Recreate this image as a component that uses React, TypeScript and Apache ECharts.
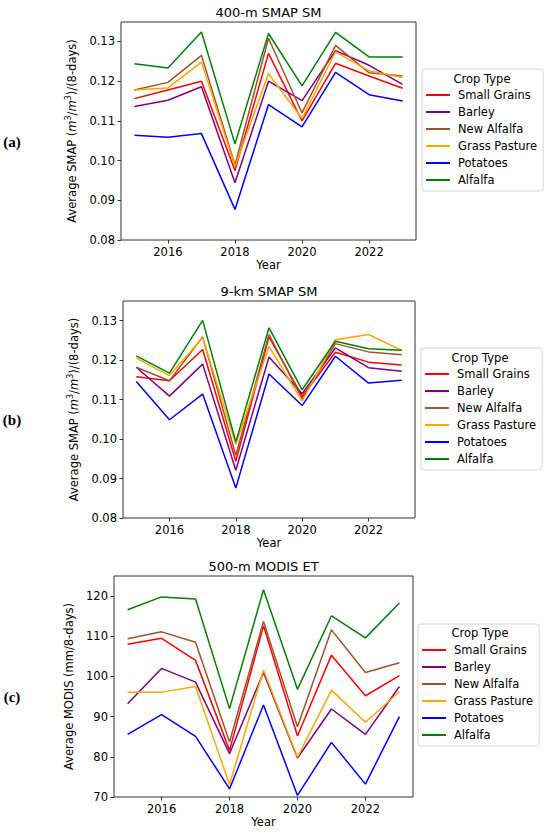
import React, { useEffect, useRef } from "react";
import * as echarts from "echarts";

const years = [2015, 2016, 2017, 2018, 2019, 2020, 2021, 2022, 2023];
const cropNames = ["Small Grains", "Barley", "New Alfalfa", "Grass Pasture", "Potatoes", "Alfalfa"];
const cropColors = ["#ff0000", "#800080", "#a0522d", "#ffa500", "#0000ff", "#008000"];

const xTicks = [2016, 2018, 2020, 2022];
const yTicksSmap = [0.08, 0.09, 0.1, 0.11, 0.12, 0.13];
const yTicksModis = [70, 80, 90, 100, 110, 120];

// (a) 400-m SMAP SM
const smap400SmallGrains = [0.1156, 0.1178, 0.12, 0.0975, 0.127, 0.11, 0.1245, 0.1213, 0.1182];
const smap400Barley = [0.1136, 0.1152, 0.1186, 0.0944, 0.12, 0.1151, 0.1277, 0.124, 0.1192];
const smap400NewAlfalfa = [0.1178, 0.1197, 0.1265, 0.0989, 0.1308, 0.112, 0.129, 0.1221, 0.1213];
const smap400GrassPasture = [0.1178, 0.1183, 0.1248, 0.0985, 0.1219, 0.1106, 0.1274, 0.1226, 0.1209];
const smap400Potatoes = [0.1064, 0.1059, 0.1068, 0.0877, 0.1141, 0.1085, 0.1222, 0.1166, 0.115];
const smap400Alfalfa = [0.1244, 0.1233, 0.1324, 0.1042, 0.132, 0.1188, 0.1323, 0.1261, 0.1261];

// (b) 9-km SMAP SM
const smap9SmallGrains = [0.1158, 0.1148, 0.1227, 0.0944, 0.1259, 0.1108, 0.122, 0.1195, 0.1188];
const smap9Barley = [0.1182, 0.1109, 0.119, 0.0921, 0.1208, 0.1115, 0.1231, 0.1181, 0.1172];
const smap9NewAlfalfa = [0.1182, 0.1148, 0.1259, 0.0959, 0.1265, 0.1102, 0.1242, 0.1221, 0.1214];
const smap9GrassPasture = [0.1205, 0.1161, 0.1257, 0.0987, 0.1235, 0.1096, 0.1252, 0.1265, 0.1225];
const smap9Potatoes = [0.1146, 0.1049, 0.1114, 0.0876, 0.1165, 0.1085, 0.121, 0.1142, 0.1149];
const smap9Alfalfa = [0.1211, 0.1167, 0.1301, 0.0993, 0.1282, 0.1125, 0.1248, 0.1229, 0.1225];

// (c) 500-m MODIS ET
const modisSmallGrains = [108.0, 109.5, 104.0, 81.6, 112.6, 85.2, 105.3, 95.2, 100.2];
const modisBarley = [93.2, 102.0, 98.6, 80.8, 101.0, 79.7, 91.9, 85.6, 97.5];
const modisNewAlfalfa = [109.4, 111.1, 108.5, 83.7, 113.7, 87.5, 111.6, 101.0, 103.4];
const modisGrassPasture = [96.1, 96.1, 97.5, 73.1, 101.6, 79.9, 96.6, 88.6, 96.2];
const modisPotatoes = [85.6, 90.5, 85.1, 72.0, 92.9, 70.4, 83.6, 73.2, 90.0];
const modisAlfalfa = [116.6, 119.8, 119.3, 92.0, 121.6, 96.8, 115.1, 109.6, 118.3];

const panelTitles = ["400-m SMAP SM", "9-km SMAP SM", "500-m MODIS ET"];
const panelLetters = ["(a)", "(b)", "(c)"];

const FONT = "DejaVu Sans";

export default function App() {
  const ref = useRef<HTMLDivElement>(null);

  useEffect(() => {
    if (!ref.current) return;
    const chart = echarts.init(ref.current, null, { renderer: "svg" });

    const panelData = [
      [smap400SmallGrains, smap400Barley, smap400NewAlfalfa, smap400GrassPasture, smap400Potatoes, smap400Alfalfa],
      [smap9SmallGrains, smap9Barley, smap9NewAlfalfa, smap9GrassPasture, smap9Potatoes, smap9Alfalfa],
      [modisSmallGrains, modisBarley, modisNewAlfalfa, modisGrassPasture, modisPotatoes, modisAlfalfa],
    ];

    const grids = [
      { left: 121, top: 22, width: 295, height: 218 },
      { left: 123, top: 301, width: 292, height: 217 },
      { left: 114, top: 576, width: 299, height: 221 },
    ];
    const yRanges = [
      [0.08, 0.1349],
      [0.08, 0.135],
      [70, 125],
    ];
    const yNameGaps = [36, 36, 31];
    const legendPos = [
      { left: 422, top: 69 },
      { left: 421, top: 348 },
      { left: 418, top: 624 },
    ];
    const titleY = [12, 291, 566];
    const legendTitlePos = [
      [482, 79],
      [480, 358],
      [480, 633],
    ];
    const letterY = [142, 420, 697];

    const richName = {
      n: { fontFamily: FONT, fontSize: 11.5, color: "#000", lineHeight: 15 },
      i: { fontFamily: FONT, fontSize: 11.5, color: "#000", fontStyle: "italic", lineHeight: 15 },
      s: { fontFamily: FONT, fontSize: 8, color: "#000", lineHeight: 15, verticalAlign: "top" },
    };
    const smapName = "{n|Average SMAP (}{i|m}{s|3}{n|/}{i|m}{s|3}{n|)/(8-days)}";

    const tickStyle = { show: true, length: 3.5, lineStyle: { color: "#333", width: 1 } };

    const option: any = {
      animation: false,
      backgroundColor: "#fff",
      grid: grids.map((g) => ({
        ...g,
        show: true,
        borderColor: "#333",
        borderWidth: 1,
        backgroundColor: "transparent",
        containLabel: false,
      })),
      xAxis: grids.map((_, k) => ({
        type: "value",
        gridIndex: k,
        min: 2014.6,
        max: 2023.4,
        name: "Year",
        nameLocation: "middle",
        nameGap: 19,
        nameTextStyle: { fontFamily: FONT, fontSize: 11.5, color: "#000" },
        axisLine: { show: false },
        axisTick: { ...tickStyle, customValues: xTicks },
        axisLabel: {
          customValues: xTicks,
          margin: 6,
          fontFamily: FONT,
          fontSize: 11.5,
          color: "#000",
          formatter: (v: number) => String(v),
        },
        splitLine: { show: false },
      })),
      yAxis: grids.map((_, k) => ({
        type: "value",
        gridIndex: k,
        min: yRanges[k][0],
        max: yRanges[k][1],
        name: k < 2 ? smapName : "Average MODIS (mm/8-days)",
        nameLocation: "middle",
        nameGap: yNameGaps[k],
        nameTextStyle: { fontFamily: FONT, fontSize: 11.5, color: "#000", rich: richName },
        axisLine: { show: false },
        axisTick: { ...tickStyle, customValues: k < 2 ? yTicksSmap : yTicksModis },
        axisLabel: {
          customValues: k < 2 ? yTicksSmap : yTicksModis,
          margin: 6,
          fontFamily: FONT,
          fontSize: 11.5,
          color: "#000",
          formatter: (v: number) => (k < 2 ? v.toFixed(2) : String(Math.round(v))),
        },
        splitLine: { show: false },
      })),
      legend: legendPos.map((p) => ({
        data: cropNames,
        orient: "vertical",
        left: p.left,
        top: p.top,
        padding: [19, 6, 4, 4],
        itemGap: 3,
        itemWidth: 24,
        itemHeight: 2,
        icon: "rect",
        borderColor: "#d6d6d6",
        borderWidth: 1,
        borderRadius: 3,
        backgroundColor: "#fff",
        selectedMode: false,
        textStyle: {
          fontFamily: FONT,
          fontSize: 11.5,
          color: "#000",
          lineHeight: 14,
          padding: [0, 0, 0, 3],
        },
      })),
      graphic: [
        ...panelTitles.map((t, k) => ({
          type: "text",
          x: grids[k].left + grids[k].width / 2,
          y: titleY[k],
          style: {
            text: t,
            fontFamily: FONT,
            fontSize: 13,
            fill: "#000",
            textAlign: "center",
            textVerticalAlign: "middle",
          },
        })),
        ...legendTitlePos.map((p) => ({
          type: "text",
          x: p[0],
          y: p[1],
          z: 100,
          style: {
            text: "Crop Type",
            fontFamily: FONT,
            fontSize: 11.5,
            fill: "#000",
            textAlign: "center",
            textVerticalAlign: "middle",
          },
        })),
        ...panelLetters.map((t, k) => ({
          type: "text",
          x: 12,
          y: letterY[k],
          style: {
            text: t,
            fontFamily: "Liberation Serif",
            fontSize: 15,
            fontWeight: "bold",
            fill: "#000",
            textAlign: "center",
            textVerticalAlign: "middle",
          },
        })),
      ],
      series: panelData.flatMap((panel, k) =>
        panel.map((vals, j) => ({
          type: "line",
          name: cropNames[j],
          xAxisIndex: k,
          yAxisIndex: k,
          data: years.map((y, idx) => [y, vals[idx]]),
          showSymbol: false,
          symbol: "none",
          color: cropColors[j],
          lineStyle: { color: cropColors[j], width: 1.5 },
          itemStyle: { color: cropColors[j] },
        }))
      ),
    };

    chart.setOption(option);
    return () => chart.dispose();
  }, []);

  return (
    <div
      ref={ref}
      style={{ position: "absolute", left: 0, top: 0, width: 550, height: 832 }}
    />
  );
}
